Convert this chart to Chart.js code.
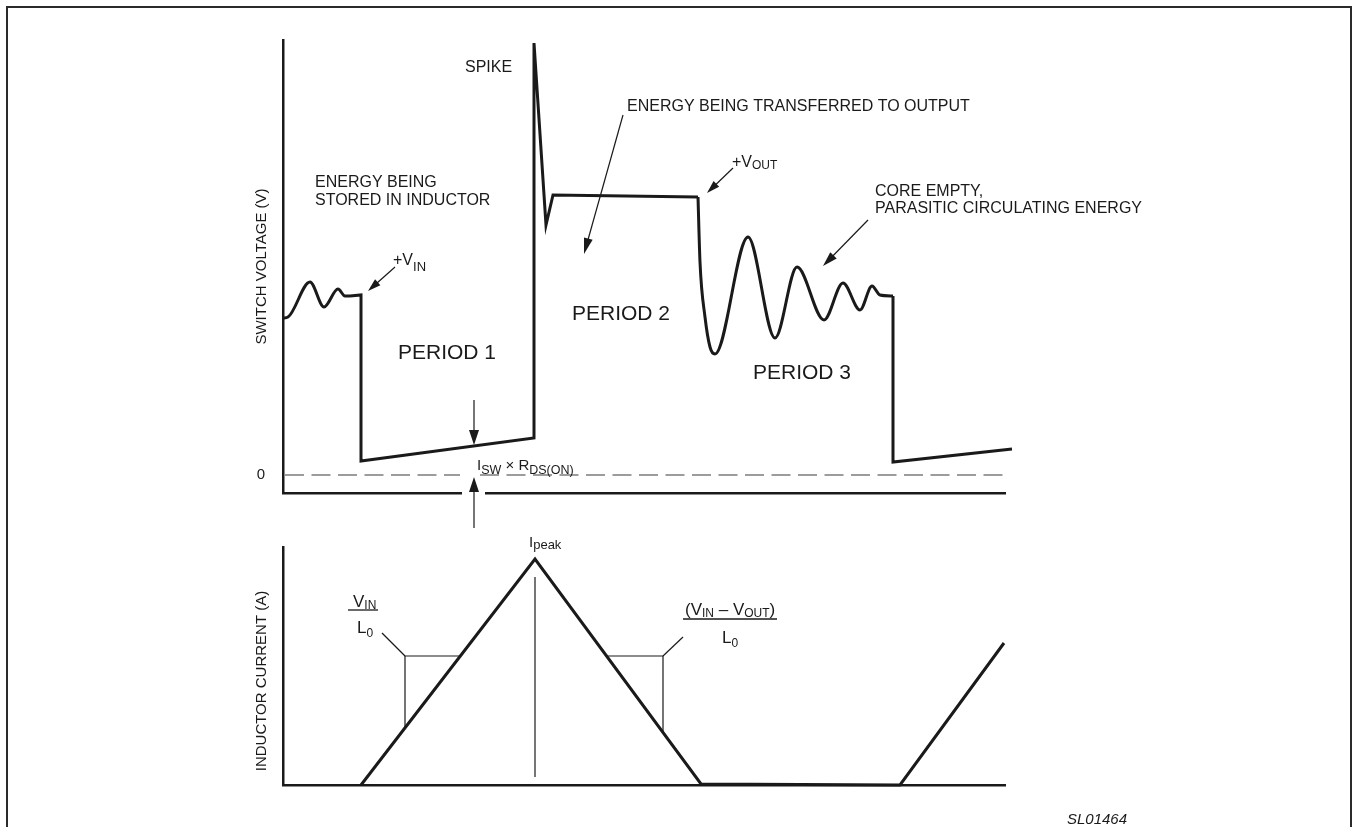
<!DOCTYPE html>
<html>
<head>
<meta charset="utf-8">
<title>Switch voltage and inductor current</title>
<script src="https://cdn.jsdelivr.net/npm/chart.js"></script>
<style>
  html, body { margin: 0; padding: 0; background: #fff; overflow: hidden; }
  #page { position: relative; width: 1353px; height: 827px; overflow: hidden; background: #fff; }
  #frame { position: absolute; left: 6px; top: 6px; width: 1346px; height: 900px; border: 2px solid #2b2b2b; box-sizing: border-box; }
  #wrapV { position: absolute; left: 0; top: 0; width: 1353px; height: 530px; }
  #wrapI { position: absolute; left: 0; top: 530px; width: 1353px; height: 297px; }
</style>
</head>
<body>
<div id="page">
  <div id="frame"></div>
  <div id="wrapV"><canvas id="chartV"></canvas></div>
  <div id="wrapI"><canvas id="chartI"></canvas></div>
</div>
<script>
const FONT = '"Liberation Sans", Arial, Helvetica, sans-serif';
const INK = '#1a1a1a';

// ---- Switch voltage (schematic units: time t, voltage v) ----
// ringing before turn-on
const ringInT = [0, 5, 27, 41, 55, 62, 67];
const ringInV = [157, 158, 193, 168, 186, 179, 179];
// turn-on ramp, spike and flyback plateau
const switchT = [67, 78, 78, 251, 251, 263, 270, 415];
const switchV = [179, 180, 14, 37, 432, 250, 280, 278];
// parasitic ringing after core empties
const ringOutT = [415, 417, 422, 427, 432, 465, 492, 514, 541, 560, 577, 589, 597, 610];
const ringOutV = [278, 213, 158, 128, 121, 238, 137, 208, 155, 192, 165, 189, 180, 179];
// next turn-on
const nextT = [610, 610, 729];
const nextV = [179, 13, 26];

// ---- Inductor current ----
const currentT = [78, 252, 418, 617, 721];
const currentA = [0, 226, 1, 0, 142];

// axis ranges
const T_MAX = 722;
const V_MIN = -18, V_MAX = 435;
const A_MIN = 0, A_MAX = 238;

const pts = (t, v) => t.map((x, i) => ({ x, y: v[i] }));

Chart.defaults.font.family = FONT;
Chart.defaults.color = INK;

function lineDS(data, extra) {
  return Object.assign({
    data, borderColor: INK, borderWidth: 3, pointRadius: 0, pointHoverRadius: 0,
    fill: false, clip: false, tension: 0, borderJoinStyle: 'miter', borderCapStyle: 'butt'
  }, extra || {});
}

function richText(ctx, x, y, runs, align) {
  let total = 0;
  runs.forEach(r => { ctx.font = (r.style || '') + ' ' + r.size + 'px ' + FONT; r.w = ctx.measureText(r.t).width; total += r.w; });
  let cx = align === 'center' ? x - total / 2 : (align === 'right' ? x - total : x);
  ctx.textAlign = 'left';
  ctx.textBaseline = 'alphabetic';
  ctx.fillStyle = INK;
  runs.forEach(r => { ctx.font = (r.style || '') + ' ' + r.size + 'px ' + FONT; ctx.fillText(r.t, cx, y + (r.dy || 0)); cx += r.w; });
}

function arrow(ctx, x1, y1, x2, y2, len, hw) {
  len = len || 14; hw = hw || 4.5;
  const a = Math.atan2(y2 - y1, x2 - x1);
  const c = Math.cos(a), s = Math.sin(a);
  ctx.save();
  ctx.strokeStyle = INK; ctx.fillStyle = INK; ctx.lineWidth = 1.2; ctx.setLineDash([]);
  ctx.beginPath(); ctx.moveTo(x1, y1); ctx.lineTo(x2 - c * len * 0.7, y2 - s * len * 0.7); ctx.stroke();
  ctx.beginPath();
  ctx.moveTo(x2, y2);
  ctx.lineTo(x2 - c * len + s * hw, y2 - s * len - c * hw);
  ctx.lineTo(x2 - c * len - s * hw, y2 - s * len + c * hw);
  ctx.closePath(); ctx.fill();
  ctx.restore();
}

const baseScaleX = {
  type: 'linear', min: 0, max: T_MAX,
  ticks: { display: false },
  grid: { display: false, drawTicks: false },
  border: { display: true, color: INK, width: 2.5 },
  afterFit(a) { a.height = 0; }
};

// ---------- Top chart: switch voltage ----------
const annotV = {
  id: 'annotV',
  beforeDatasetsDraw(chart) {
    const { ctx, scales: { x, y } } = chart;
    const y0 = y.getPixelForValue(0);
    ctx.save();
    ctx.strokeStyle = '#3a3a3a'; ctx.lineWidth = 1.2; ctx.setLineDash([19, 7.5]);
    [[2, 177], [197, T_MAX]].forEach(([a, b]) => {
      ctx.beginPath(); ctx.moveTo(x.getPixelForValue(a), y0); ctx.lineTo(x.getPixelForValue(b), y0); ctx.stroke();
    });
    ctx.restore();
  },
  afterDraw(chart) {
    const { ctx, chartArea } = chart;
    ctx.save();
    // gap in the time axis where the measurement arrow passes
    ctx.fillStyle = '#fff';
    ctx.fillRect(462, chartArea.bottom - 4, 23, 8);
    // arrows
    arrow(ctx, 395, 267, 368, 291, 13, 4);
    arrow(ctx, 733, 168, 707, 193, 13, 4);
    arrow(ctx, 623, 115, 584, 254, 16, 4.5);
    arrow(ctx, 868, 220, 823, 266, 15, 4.5);
    arrow(ctx, 474, 400, 474, 445, 15, 5);
    arrow(ctx, 474, 528, 474, 477, 15, 5);
    // labels
    richText(ctx, 465, 72, [{ t: 'SPIKE', size: 16 }]);
    richText(ctx, 315, 187, [{ t: 'ENERGY BEING', size: 16 }]);
    richText(ctx, 315, 205, [{ t: 'STORED IN INDUCTOR', size: 16 }]);
    richText(ctx, 627, 111, [{ t: 'ENERGY BEING TRANSFERRED TO OUTPUT', size: 16 }]);
    richText(ctx, 393, 265, [{ t: '+V', size: 16 }, { t: 'IN', size: 13, dy: 6 }]);
    richText(ctx, 732, 167, [{ t: '+V', size: 16 }, { t: 'OUT', size: 12, dy: 2 }]);
    richText(ctx, 875, 196, [{ t: 'CORE EMPTY,', size: 16 }]);
    richText(ctx, 875, 213, [{ t: 'PARASITIC CIRCULATING ENERGY', size: 16 }]);
    richText(ctx, 398, 359, [{ t: 'PERIOD 1', size: 21 }]);
    richText(ctx, 572, 320, [{ t: 'PERIOD 2', size: 21 }]);
    richText(ctx, 753, 379, [{ t: 'PERIOD 3', size: 21 }]);
    richText(ctx, 477, 470, [{ t: 'I', size: 15 }, { t: 'SW', size: 12.5, dy: 4 }, { t: ' \u00D7 R', size: 15 }, { t: 'DS(ON)', size: 12.5, dy: 4 }]);
    ctx.restore();
  }
};

new Chart(document.getElementById('chartV'), {
  type: 'line',
  data: {
    datasets: [
      lineDS(pts(ringInT, ringInV), { cubicInterpolationMode: 'monotone' }),
      lineDS(pts(switchT, switchV)),
      lineDS(pts(ringOutT, ringOutV), { cubicInterpolationMode: 'monotone' }),
      lineDS(pts(nextT, nextV))
    ]
  },
  options: {
    responsive: true, maintainAspectRatio: false, animation: false,
    parsing: true,
    layout: { padding: { left: 253, right: 348, top: 40, bottom: 37 } },
    plugins: { legend: { display: false }, tooltip: { enabled: false } },
    events: [],
    scales: {
      x: baseScaleX,
      y: {
        type: 'linear', min: V_MIN, max: V_MAX,
        grid: { display: false, drawTicks: false },
        border: { display: true, color: INK, width: 2.5 },
        afterBuildTicks(a) { a.ticks = [{ value: 0 }]; },
        ticks: { padding: 18, color: INK, font: { size: 15 }, callback: v => (v === 0 ? '0' : '') },
        title: { display: true, text: 'SWITCH VOLTAGE (V)', color: INK, font: { size: 15 }, padding: { top: 0, bottom: 0 } },
        afterFit(a) { a.width = 30; }
      }
    }
  },
  plugins: [annotV]
});

// ---------- Bottom chart: inductor current ----------
const slopeMarks = [
  { leader: [[99, 152], [122, 129]], box: [[177, 129], [122, 129], [122, 57]] },
  { leader: [[400, 148], [380, 129]], box: [[323, 129], [380, 129], [380, 52]] }
];
const peakMark = [[252, 8], [252, 208]];

const annotI = {
  id: 'annotI',
  afterDraw(chart) {
    const { ctx, scales: { x, y } } = chart;
    const P = ([t, a]) => [x.getPixelForValue(t), y.getPixelForValue(a)];
    const poly = (list) => {
      ctx.beginPath();
      list.forEach((p, i) => { const [px, py] = P(p); if (i) ctx.lineTo(px, py); else ctx.moveTo(px, py); });
      ctx.stroke();
    };
    ctx.save();
    ctx.strokeStyle = INK; ctx.lineWidth = 1.2;
    slopeMarks.forEach(m => { poly(m.leader); poly(m.box); });
    poly(peakMark);
    // fraction bars
    ctx.lineWidth = 1.3;
    ctx.beginPath(); ctx.moveTo(348, 610 - 530); ctx.lineTo(378, 610 - 530); ctx.stroke();
    ctx.beginPath(); ctx.moveTo(683, 619 - 530); ctx.lineTo(777, 619 - 530); ctx.stroke();
    // texts
    richText(ctx, 529, 547 - 530, [{ t: 'I', size: 15 }, { t: 'peak', size: 13, dy: 2 }]);
    richText(ctx, 353, 607 - 530, [{ t: 'V', size: 17 }, { t: 'IN', size: 12, dy: 1.5 }]);
    richText(ctx, 357, 633 - 530, [{ t: 'L', size: 17 }, { t: '0', size: 12, dy: 4 }]);
    richText(ctx, 685, 615 - 530, [{ t: '(V', size: 17 }, { t: 'IN', size: 12, dy: 2 }, { t: ' \u2013 V', size: 17 }, { t: 'OUT', size: 12, dy: 2 }, { t: ')', size: 17 }]);
    richText(ctx, 722, 643 - 530, [{ t: 'L', size: 17 }, { t: '0', size: 12, dy: 4 }]);
    richText(ctx, 1067, 824 - 530, [{ t: 'SL01464', size: 15, style: 'italic' }]);
    // axis title
    ctx.translate(262, 681 - 530);
    ctx.rotate(-Math.PI / 2);
    ctx.font = '15px ' + FONT; ctx.fillStyle = INK;
    ctx.textAlign = 'center'; ctx.textBaseline = 'middle';
    ctx.fillText('INDUCTOR CURRENT (A)', 0, 0);
    ctx.restore();
  }
};

new Chart(document.getElementById('chartI'), {
  type: 'line',
  data: { datasets: [lineDS(pts(currentT, currentA))] },
  options: {
    responsive: true, maintainAspectRatio: false, animation: false,
    layout: { padding: { left: 253, right: 348, top: 17, bottom: 42 } },
    plugins: { legend: { display: false }, tooltip: { enabled: false } },
    events: [],
    scales: {
      x: baseScaleX,
      y: {
        type: 'linear', min: A_MIN, max: A_MAX,
        ticks: { display: false },
        grid: { display: false, drawTicks: false },
        border: { display: true, color: INK, width: 2.5 },
        afterFit(a) { a.width = 30; }
      }
    }
  },
  plugins: [annotI]
});
</script>
</body>
</html>
